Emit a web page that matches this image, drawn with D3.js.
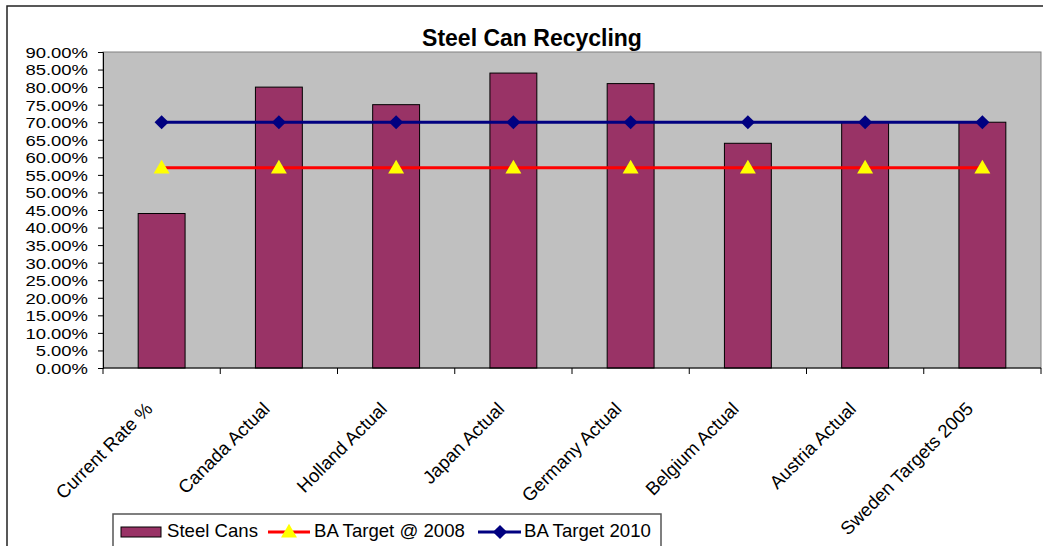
<!DOCTYPE html>
<html>
<head>
<meta charset="utf-8">
<script src="https://cdn.jsdelivr.net/npm/d3@7"></script>
<style>
  html, body { margin: 0; padding: 0; background: #fff; }
  svg { display: block; font-family: "Liberation Sans", Arial, sans-serif; }
  .y-axis text { font-size: 15px; font-family: "Liberation Sans", Arial, sans-serif; fill: #000; }
</style>
</head>
<body>
<svg id="chart" width="1043" height="546"></svg>
<script>
// Categories along the x axis
const categories = [
  "Current Rate %", "Canada Actual", "Holland Actual", "Japan Actual",
  "Germany Actual", "Belgium Actual", "Austria Actual", "Sweden Targets 2005"
];
// Recycling rate for each category (bars)
const steelCans = [0.44, 0.80, 0.75, 0.84, 0.81, 0.64, 0.70, 0.70];
// Target lines
const baTarget2008 = [0.57, 0.57, 0.57, 0.57, 0.57, 0.57, 0.57, 0.57];
const baTarget2010 = [0.70, 0.70, 0.70, 0.70, 0.70, 0.70, 0.70, 0.70];
// Y axis ticks
const yTicks = [0, 0.05, 0.10, 0.15, 0.20, 0.25, 0.30, 0.35, 0.40, 0.45,
                0.50, 0.55, 0.60, 0.65, 0.70, 0.75, 0.80, 0.85, 0.90];
const seriesNames = ["Steel Cans", "BA Target @ 2008", "BA Target 2010"];

const svg = d3.select("#chart");
const plot = { left: 103, top: 52, right: 1041, bottom: 368 };

// Outer chart frame
svg.append("rect")
  .attr("x", 7).attr("y", 6).attr("width", 1060).attr("height", 560)
  .attr("fill", "#fff").attr("stroke", "#222").attr("stroke-width", 1.5);

// Title
svg.append("text")
  .attr("x", 532).attr("y", 46)
  .attr("text-anchor", "middle")
  .attr("font-weight", "bold").attr("font-size", 23)
  .text("Steel Can Recycling");

const x = d3.scaleBand().domain(categories).range([plot.left, plot.right]).padding(0);
const y = d3.scaleLinear().domain([0, 0.9]).range([plot.bottom, plot.top]);

// Plot area background
svg.append("rect")
  .attr("x", plot.left).attr("y", plot.top)
  .attr("width", plot.right - plot.left).attr("height", plot.bottom - plot.top)
  .attr("fill", "#c0c0c0").attr("stroke", "#808080").attr("stroke-width", 1);

// Bars
const barW = x.bandwidth() * 0.4;
svg.append("g").selectAll("rect")
  .data(steelCans)
  .join("rect")
  .attr("x", (d, i) => x(categories[i]) + x.bandwidth() / 2 - barW / 2)
  .attr("y", d => y(d))
  .attr("width", barW)
  .attr("height", d => y(0) - y(d))
  .attr("fill", "#993366")
  .attr("stroke", "#000").attr("stroke-width", 1);

// Y axis (labels widened a little so the compact font keeps a wide look)
const yAxis = d3.axisLeft(y).tickValues(yTicks).tickFormat(d3.format(".2%"))
  .tickSize(5).tickPadding(10);
const gy = svg.append("g").attr("class", "y-axis")
  .attr("transform", `translate(${plot.left},0)`).call(yAxis);
gy.attr("font-size", null).attr("font-family", null);
gy.select(".domain").attr("stroke", "#000");
gy.selectAll(".tick line").attr("stroke", "#000");
gy.selectAll(".tick text")
  .attr("dy", "0.36em")
  .each(function () {
    const w = this.getComputedTextLength();
    d3.select(this).attr("textLength", w * 1.23).attr("lengthAdjust", "spacingAndGlyphs");
  });

// X axis: tick marks sit on band boundaries
const gx = svg.append("g");
gx.append("line")
  .attr("x1", plot.left).attr("x2", plot.right)
  .attr("y1", plot.bottom).attr("y2", plot.bottom)
  .attr("stroke", "#000");
const boundaries = categories.map(c => x(c)).concat([plot.right]);
gx.selectAll("line.tk").data(boundaries).join("line")
  .attr("class", "tk")
  .attr("x1", d => d).attr("x2", d => d)
  .attr("y1", plot.bottom).attr("y2", plot.bottom + 6)
  .attr("stroke", "#000");
gx.selectAll("text").data(categories).join("text")
  .attr("transform", d => `translate(${x(d) + x.bandwidth() / 2 - 8},${plot.bottom + 42}) rotate(-45)`)
  .attr("text-anchor", "end")
  .attr("font-size", 18.5)
  .text(d => d);

// Target lines
const cx = i => x(categories[i]) + x.bandwidth() / 2;
const line = d3.line().x((d, i) => cx(i)).y(d => y(d));

svg.append("path").datum(baTarget2008)
  .attr("d", line).attr("fill", "none")
  .attr("stroke", "#ff0000").attr("stroke-width", 3);
const tri = d3.symbol().type(d3.symbolTriangle).size(110);
svg.append("g").selectAll("path").data(baTarget2008).join("path")
  .attr("d", tri)
  .attr("transform", (d, i) => `translate(${cx(i)},${y(d) + 1})`)
  .attr("fill", "#ffff00");

svg.append("path").datum(baTarget2010)
  .attr("d", line).attr("fill", "none")
  .attr("stroke", "#000080").attr("stroke-width", 3);
const dia = d3.symbol().type(d3.symbolSquare).size(100);
svg.append("g").selectAll("path").data(baTarget2010).join("path")
  .attr("d", dia)
  .attr("transform", (d, i) => `translate(${cx(i)},${y(d)}) rotate(45)`)
  .attr("fill", "#000080");

// Legend
const lg = svg.append("g");
lg.append("rect")
  .attr("x", 113).attr("y", 514).attr("width", 548).attr("height", 60)
  .attr("fill", "#fff").attr("stroke", "#555").attr("stroke-width", 1.5);
lg.append("rect")
  .attr("x", 121).attr("y", 527).attr("width", 40).attr("height", 10)
  .attr("fill", "#993366").attr("stroke", "#000").attr("stroke-width", 1);
lg.append("text").attr("x", 167).attr("y", 537).attr("font-size", 18.6).text(seriesNames[0]);
lg.append("line")
  .attr("x1", 268).attr("x2", 310).attr("y1", 532).attr("y2", 532)
  .attr("stroke", "#ff0000").attr("stroke-width", 3);
lg.append("path").attr("d", tri).attr("transform", "translate(289,533)").attr("fill", "#ffff00");
lg.append("text").attr("x", 314).attr("y", 537).attr("font-size", 18.6).text(seriesNames[1]);
lg.append("line")
  .attr("x1", 478).attr("x2", 521).attr("y1", 532).attr("y2", 532)
  .attr("stroke", "#000080").attr("stroke-width", 3);
lg.append("path").attr("d", dia).attr("transform", "translate(500,532) rotate(45)").attr("fill", "#000080");
lg.append("text").attr("x", 524).attr("y", 537).attr("font-size", 18.6).text(seriesNames[2]);
</script>
</body>
</html>
